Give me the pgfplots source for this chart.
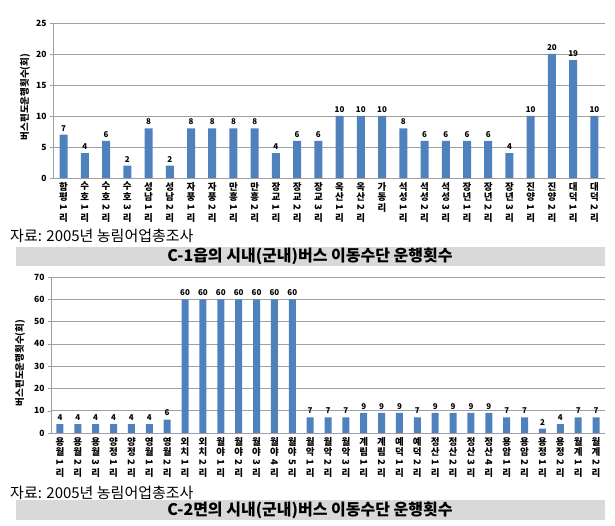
\documentclass[border=0pt]{standalone}
\usepackage{pgfplots}
\pgfplotsset{compat=1.18}
\usepackage{fontspec}
\setmainfont{Noto Sans CJK KR}
\definecolor{barblue}{RGB}{79,129,189}
\definecolor{gridgray}{RGB}{160,160,160}
\definecolor{titlegray}{RGB}{217,217,217}
\newcommand{\rd}[1]{\rotatebox[origin=c]{-90}{#1}}
\pgfplotsset{
  mybars/.style={
    scale only axis,
    anchor=south west,
    ybar,
    axis lines*=left,
    axis line style={gridgray,-},
    ymajorgrids,
    grid style={gridgray,line width=0.6pt},
    xtick=data,
    major x tick style={draw=none},
    extra x tick style={grid=none,major tick length=3pt,tick align=outside,tick style={gridgray}},
    extra x tick labels={},
    ytick style={gridgray},
    tick align=outside,
    major tick length=3pt,
    /pgf/number format/assume math mode=true,
    yticklabel style={font=\fontsize{8.5}{9}\selectfont\bfseries},
    xticklabel style={font=\fontsize{9.5}{10.5}\selectfont\bfseries,align=center,anchor=north,inner sep=1pt},
    nodes near coords,
    nodes near coords style={font=\fontsize{8}{9}\selectfont\bfseries,black},
  }
}
\begin{document}
\begin{tikzpicture}
\useasboundingbox (0,0) rectangle (615pt,526pt);
% top chart
\begin{axis}[mybars,
  at={(53pt,348pt)}, width=552pt, height=155pt,
  xmin=-0.5, xmax=25.5, ymin=0, ymax=25, ytick={0,5,...,25},
  bar width=8pt,
  extra x ticks={-0.5,0.5,...,25.5},
  xticklabels={
    {함\\평\\\rd{1}\\리},{수\\호\\\rd{1}\\리},{수\\호\\\rd{2}\\리},{수\\호\\\rd{3}\\리},
    {성\\남\\\rd{1}\\리},{성\\남\\\rd{2}\\리},{자\\풍\\\rd{1}\\리},{자\\풍\\\rd{2}\\리},
    {만\\흥\\\rd{1}\\리},{만\\흥\\\rd{2}\\리},{장\\교\\\rd{1}\\리},{장\\교\\\rd{2}\\리},
    {장\\교\\\rd{3}\\리},{옥\\산\\\rd{1}\\리},{옥\\산\\\rd{2}\\리},{가\\동\\리},
    {석\\성\\\rd{1}\\리},{석\\성\\\rd{2}\\리},{석\\성\\\rd{3}\\리},{장\\년\\\rd{1}\\리},
    {장\\년\\\rd{2}\\리},{장\\년\\\rd{3}\\리},{진\\양\\\rd{1}\\리},{진\\양\\\rd{2}\\리},
    {대\\덕\\\rd{1}\\리},{대\\덕\\\rd{2}\\리}},
]
\addplot[fill=barblue,draw=none] coordinates {(0,7)(1,4)(2,6)(3,2)(4,8)(5,2)(6,8)(7,8)(8,8)(9,8)(10,4)(11,6)(12,6)
(13,10)(14,10)(15,10)(16,8)(17,6)(18,6)(19,6)(20,6)(21,4)(22,10)(23,20)(24,19)(25,10)};
\end{axis}
% bottom chart
\begin{axis}[mybars,
  at={(51pt,93pt)}, width=554pt, height=156pt,
  xmin=-0.5, xmax=30.5, ymin=0, ymax=70, ytick={0,10,...,70},
  bar width=7pt,
  extra x ticks={-0.5,0.5,...,30.5},
  xticklabels={
    {용\\월\\\rd{1}\\리},{용\\월\\\rd{2}\\리},{용\\월\\\rd{3}\\리},{양\\정\\\rd{1}\\리},
    {양\\정\\\rd{2}\\리},{영\\월\\\rd{1}\\리},{영\\월\\\rd{2}\\리},{외\\치\\\rd{1}\\리},
    {외\\치\\\rd{2}\\리},{월\\야\\\rd{1}\\리},{월\\야\\\rd{2}\\리},{월\\야\\\rd{3}\\리},
    {월\\야\\\rd{4}\\리},{월\\야\\\rd{5}\\리},{월\\악\\\rd{1}\\리},{월\\악\\\rd{2}\\리},
    {월\\악\\\rd{3}\\리},{계\\림\\\rd{1}\\리},{계\\림\\\rd{2}\\리},{예\\덕\\\rd{1}\\리},
    {예\\덕\\\rd{2}\\리},{정\\산\\\rd{1}\\리},{정\\산\\\rd{2}\\리},{정\\산\\\rd{3}\\리},
    {정\\산\\\rd{4}\\리},{용\\암\\\rd{1}\\리},{용\\암\\\rd{2}\\리},{용\\정\\\rd{1}\\리},
    {용\\정\\\rd{2}\\리},{월\\계\\\rd{1}\\리},{월\\계\\\rd{2}\\리}},
]
\addplot[fill=barblue,draw=none] coordinates {(0,4)(1,4)(2,4)(3,4)(4,4)(5,4)(6,6)(7,60)(8,60)(9,60)(10,60)(11,60)(12,60)(13,60)
(14,7)(15,7)(16,7)(17,9)(18,9)(19,9)(20,7)(21,9)(22,9)(23,9)(24,9)(25,7)(26,7)(27,2)(28,4)(29,7)(30,7)};
\end{axis}
% y labels
\node[rotate=90,font=\fontsize{9.5}{10}\selectfont\bfseries] at (25pt,429pt) {버스편도운행횟수(회)};
\node[rotate=90,font=\fontsize{9.5}{10}\selectfont\bfseries] at (20pt,163pt) {버스편도운행횟수(회)};
% sources
\node[anchor=west,font=\fontsize{15}{15}\selectfont,inner sep=0pt] at (10pt,290pt) {자료: 2005년 농림어업총조사};
\node[anchor=west,font=\fontsize{15}{15}\selectfont,inner sep=0pt] at (10pt,33pt) {자료: 2005년 농림어업총조사};
% titles
\fill[titlegray] (16pt,260pt) rectangle (605pt,279pt);
\node[font=\fontsize{16}{16}\selectfont\bfseries] at (310pt,269.5pt) {C-1읍의 시내(군내)버스 이동수단 운행횟수};
\fill[titlegray] (16pt,6pt) rectangle (605pt,26pt);
\node[font=\fontsize{16}{16}\selectfont\bfseries] at (310pt,16pt) {C-2면의 시내(군내)버스 이동수단 운행횟수};
\end{tikzpicture}
\end{document}
